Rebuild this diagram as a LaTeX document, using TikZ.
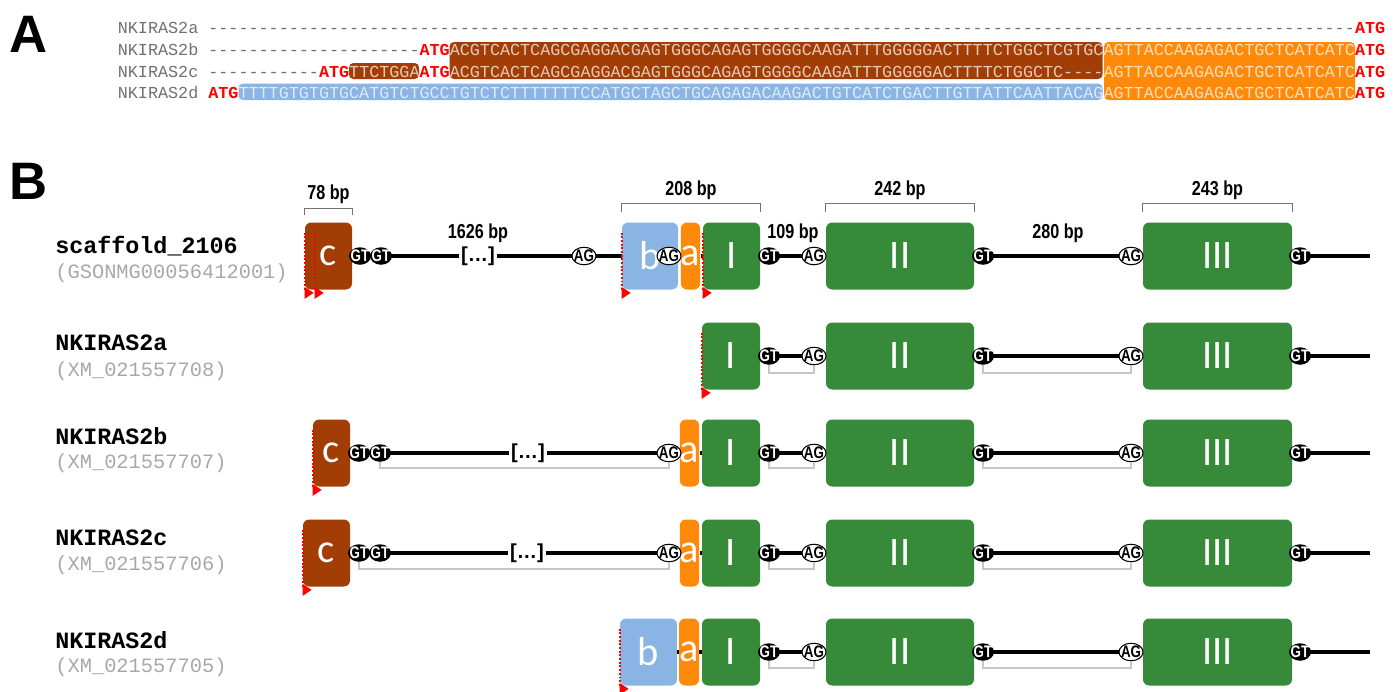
\documentclass[tikz,border=0pt]{standalone}
\usepackage{fontspec}
\setmainfont{Liberation Sans}
\setmonofont{Liberation Mono}
\newfontfamily\exonfont{Carlito}
\newfontfamily\narrowfont{Liberation Sans}[FakeStretch=0.8]
\usetikzlibrary{shapes.geometric}

\definecolor{exonC}{HTML}{A33D06}
\definecolor{exonA}{HTML}{FF8A0A}
\definecolor{exonB}{HTML}{8AB4E3}
\definecolor{exonK}{HTML}{368A3A}
\definecolor{seqgray}{HTML}{707070}
\definecolor{accgray}{HTML}{A8A8A8}
\definecolor{splicegray}{HTML}{C6C6C6}
\colorlet{onC}{white!72!exonC}
\colorlet{onA}{white!72!exonA}
\colorlet{onB}{white!72!exonB}

\newcommand\dashrun[1]{\foreach \i in {1,...,#1}{-}}
\newcommand\atg{{\bfseries\color{red}ATG}}

\begin{document}
\begin{tikzpicture}[
        % un'unita = un pixel
        x=0.02cm, y=-0.02cm,
        % Stili dell'allineamento (A)
        seq/.style={anchor=base west, inner sep=0pt, font=\ttfamily\fontsize{9.54}{10}\selectfont},
        hl/.style={rounded corners=2.5pt},
        panel/.style={font=\bfseries\fontsize{30}{30}\selectfont},
        % Stili della struttura genica (B)
        exon/.style={rounded corners=3.5pt, inner sep=0pt, minimum height=1.34cm, text=white, font=\exonfont\fontsize{23}{23}\selectfont},
        wd/.style={minimum width=#1*0.02cm},
        gt/.style={ellipse, fill=black, text=white, inner xsep=-2pt, inner ysep=-0.5pt, minimum width=0.44cm, minimum height=0.35cm, font=\narrowfont\bfseries\fontsize{9.5}{9.5}\selectfont},
        ag/.style={gt, fill=white, draw=black, line width=0.6pt, text=black, minimum width=0.48cm},
        intron/.style={line width=2.2pt},
        splice/.style={draw=splicegray, line width=0.9pt},
        bracket/.style={draw=black!55, line width=0.5pt},
        bp/.style={inner sep=1pt, font=\narrowfont\bfseries\fontsize{11.5}{11.5}\selectfont},
        gapbox/.style={fill=white, inner sep=1.5pt, font=\bfseries\fontsize{11.5}{11.5}\selectfont},
        gname/.style={anchor=west, inner sep=0pt, font=\ttfamily\bfseries\fontsize{13.3}{14}\selectfont},
        gacc/.style={anchor=west, inner sep=0pt, text=accgray, font=\ttfamily\fontsize{11.6}{12}\selectfont},
        tss/.pic={
            \draw[red, densely dotted, line width=1.1pt] (0,0) -- (0,-58);
            \fill[red] (0,-3) -- (0,9) -- (9,3) -- cycle;
        }
    ]
    \useasboundingbox (0,0) rectangle (1396,691);

    % ==============================
    % A. ALLINEAMENTO
    % ==============================
    \node[panel] (lblA) at (29,34) {A};

    % Evidenziazioni
    \fill[exonC, hl] (449.5,42) rectangle (1102.5,79);
    \fill[exonC, hl] (349,63) rectangle (419,79);
    \fill[exonA, hl] (1104,42) rectangle (1355,100);
    \fill[exonB, hl] (238.5,83.5) rectangle (1102.5,100);

    % Sequenze
    \node[seq] (seqa) at (117.5,33.8) {{\color{seqgray}NKIRAS2a \dashrun{114}}\atg};
    \node[seq] (seqb) at (117.5,55.5) {{\color{seqgray}NKIRAS2b \dashrun{21}}\atg{\color{onC}ACGTCACTCAGCGAGGACGAGTGGGCAGAGTGGGGCAAGATTTGGGGGACTTTTCTGGCTCGTGC}{\color{onA}AGTTACCAAGAGACTGCTCATCATC}\atg};
    \node[seq] (seqc) at (117.5,77.2) {{\color{seqgray}NKIRAS2c \dashrun{11}}\atg{\color{onC}TTCTGGA}\atg{\color{onC}ACGTCACTCAGCGAGGACGAGTGGGCAGAGTGGGGCAAGATTTGGGGGACTTTTCTGGCTC\dashrun{4}}{\color{onA}AGTTACCAAGAGACTGCTCATCATC}\atg};
    \node[seq] (seqd) at (117.5,98.8) {{\color{seqgray}NKIRAS2d }\atg{\color{onB}TTTTGTGTGTGCATGTCTGCCTGTCTCTTTTTTTCCATGCTAGCTGCAGAGACAAGACTGTCATCTGACTTGTTATTCAATTACAG}{\color{onA}AGTTACCAAGAGACTGCTCATCATC}\atg};

    % ==============================
    % B. STRUTTURA DEI TRASCRITTI
    % ==============================
    \node[panel] (lblB) at (29,181) {B};

    % --- scaffold_2106 ---
    \node[gname] (s-name) at (55,246) {scaffold\_2106};
    \node[gacc] (s-acc) at (55,273) {(GSONMG00056412001)};
    \begin{scope}[shift={(0,256)}]
        % Esoni
        \node[exon, wd=47, fill=exonC] (s-c) at (328.5,0) {c};
        \node[exon, wd=56, fill=exonB] (s-b) at (650,0) {b};
        \node[exon, wd=19, fill=exonA] (s-a) at (690.5,0) {a};
        \node[exon, wd=57, fill=exonK] (s-I) at (731.5,0) {I};
        \node[exon, wd=148, fill=exonK] (s-II) at (900,0) {II};
        \node[exon, wd=149, fill=exonK] (s-III) at (1217.5,0) {III};
        \coordinate (s-end) at (1370,0);
        % Introni
        \draw[intron] (s-c.east) -- (s-b.west) (s-b.east) -- (s-a.west) (s-a.east) -- (s-I.west)
            (s-I.east) -- (s-II.west) (s-II.east) -- (s-III.west) (s-III.east) -- (s-end);
        \node[gapbox] (s-gap) at (478,0) {[\ldots]};
        % Siti di splicing
        \node[gt] (s-gt1) at (360,0) {GT}; \node[gt] (s-gt2) at (381,0) {GT};
        \node[ag] (s-ag1) at (584,0) {AG}; \node[ag] (s-ag2) at (669,0) {AG};
        \node[gt] (s-gt3) at (769,0) {GT}; \node[ag] (s-ag3) at (814,0) {AG};
        \node[gt] (s-gt4) at (983,0) {GT}; \node[ag] (s-ag4) at (1131,0) {AG};
        \node[gt] (s-gt5) at (1300,0) {GT};
        % Lunghezze
        \node[bp] (s-len1) at (478,-23) {1626 bp};
        \node[bp] (s-len2) at (793,-23) {109 bp};
        \node[bp] (s-len3) at (1058,-23) {280 bp};
        \draw[bracket] ([yshift=0.14cm]s-c.north west) |- ([yshift=0.28cm]s-c.north east)
            node[bp, pos=0.75, above=1.5pt] (s-len4) {78 bp} -- ([yshift=0.14cm]s-c.north east);
        \draw[bracket] ([yshift=0.2cm]s-b.north west) |- ([yshift=0.38cm]s-I.north east)
            node[bp, pos=0.75, above=0.5pt] (s-len5) {208 bp} -- ([yshift=0.2cm]s-I.north east);
        \draw[bracket] ([yshift=0.2cm]s-II.north west) |- ([yshift=0.38cm]s-II.north east)
            node[bp, pos=0.75, above=0.5pt] (s-len6) {242 bp} -- ([yshift=0.2cm]s-II.north east);
        \draw[bracket] ([yshift=0.2cm]s-III.north west) |- ([yshift=0.38cm]s-III.north east)
            node[bp, pos=0.75, above=0.5pt] (s-len7) {243 bp} -- ([yshift=0.2cm]s-III.north east);
        % Inizi della traduzione
        \pic at (s-c.south west) {tss};
        \pic at ([xshift=0.2cm]s-c.south west) {tss};
        \pic at (s-b.south west) {tss};
        \pic at (s-I.south west) {tss};
    \end{scope}

    % --- NKIRAS2a ---
    \node[gname] (ra-name) at (55,343) {NKIRAS2a};
    \node[gacc] (ra-acc) at (55,371) {(XM\_021557708)};
    \begin{scope}[shift={(0,356)}]
        \node[exon, wd=58, fill=exonK] (ra-I) at (731,0) {I};
        \node[exon, wd=148, fill=exonK] (ra-II) at (900,0) {II};
        \node[exon, wd=149, fill=exonK] (ra-III) at (1217.5,0) {III};
        \coordinate (ra-end) at (1370,0);
        \draw[intron] (ra-I.east) -- (ra-II.west) (ra-II.east) -- (ra-III.west) (ra-III.east) -- (ra-end);
        \node[gt] (ra-gt1) at (769,0) {GT}; \node[ag] (ra-ag1) at (814,0) {AG};
        \node[gt] (ra-gt2) at (983,0) {GT}; \node[ag] (ra-ag2) at (1131,0) {AG};
        \node[gt] (ra-gt3) at (1300,0) {GT};
        \draw[splice] (ra-gt1.south) -- ++(0,8) -| (ra-ag1.south);
        \draw[splice] (ra-gt2.south) -- ++(0,8) -| (ra-ag2.south);
        \pic at (ra-I.south west) {tss};
    \end{scope}

    % --- NKIRAS2b ---
    \node[gname] (rb-name) at (55,436) {NKIRAS2b};
    \node[gacc] (rb-acc) at (55,463) {(XM\_021557707)};
    \begin{scope}[shift={(0,453)}]
        \node[exon, wd=37, fill=exonC] (rb-c) at (331.5,0) {c};
        \node[exon, wd=19, fill=exonA] (rb-a) at (689.5,0) {a};
        \node[exon, wd=58, fill=exonK] (rb-I) at (731,0) {I};
        \node[exon, wd=148, fill=exonK] (rb-II) at (900,0) {II};
        \node[exon, wd=149, fill=exonK] (rb-III) at (1217.5,0) {III};
        \coordinate (rb-end) at (1370,0);
        \draw[intron] (rb-c.east) -- (rb-a.west) (rb-a.east) -- (rb-I.west)
            (rb-I.east) -- (rb-II.west) (rb-II.east) -- (rb-III.west) (rb-III.east) -- (rb-end);
        \node[gapbox] (rb-gap) at (528,0) {[\ldots]};
        \node[gt] (rb-gt1) at (359,0) {GT}; \node[gt] (rb-gt2) at (380,0) {GT};
        \node[ag] (rb-ag1) at (669,0) {AG};
        \node[gt] (rb-gt3) at (769,0) {GT}; \node[ag] (rb-ag2) at (814,0) {AG};
        \node[gt] (rb-gt4) at (983,0) {GT}; \node[ag] (rb-ag3) at (1131,0) {AG};
        \node[gt] (rb-gt5) at (1300,0) {GT};
        \draw[splice] (rb-gt2.south) -- ++(0,6) -| (rb-ag1.south);
        \draw[splice] (rb-gt3.south) -- ++(0,6) -| (rb-ag2.south);
        \draw[splice] (rb-gt4.south) -- ++(0,6) -| (rb-ag3.south);
        \pic at (rb-c.south west) {tss};
    \end{scope}

    % --- NKIRAS2c ---
    \node[gname] (rc-name) at (55,538) {NKIRAS2c};
    \node[gacc] (rc-acc) at (55,565) {(XM\_021557706)};
    \begin{scope}[shift={(0,553)}]
        \node[exon, wd=47, fill=exonC] (rc-c) at (326.5,0) {c};
        \node[exon, wd=19, fill=exonA] (rc-a) at (689.5,0) {a};
        \node[exon, wd=58, fill=exonK] (rc-I) at (731,0) {I};
        \node[exon, wd=148, fill=exonK] (rc-II) at (900,0) {II};
        \node[exon, wd=149, fill=exonK] (rc-III) at (1217.5,0) {III};
        \coordinate (rc-end) at (1370,0);
        \draw[intron] (rc-c.east) -- (rc-a.west) (rc-a.east) -- (rc-I.west)
            (rc-I.east) -- (rc-II.west) (rc-II.east) -- (rc-III.west) (rc-III.east) -- (rc-end);
        \node[gapbox] (rc-gap) at (527,0) {[\ldots]};
        \node[gt] (rc-gt1) at (359,0) {GT}; \node[gt] (rc-gt2) at (380,0) {GT};
        \node[ag] (rc-ag1) at (669,0) {AG};
        \node[gt] (rc-gt3) at (769,0) {GT}; \node[ag] (rc-ag2) at (814,0) {AG};
        \node[gt] (rc-gt4) at (983,0) {GT}; \node[ag] (rc-ag3) at (1131,0) {AG};
        \node[gt] (rc-gt5) at (1300,0) {GT};
        \draw[splice] (rc-gt1.south) -- ++(0,7) -| (rc-ag1.south);
        \draw[splice] (rc-gt3.south) -- ++(0,7) -| (rc-ag2.south);
        \draw[splice] (rc-gt4.south) -- ++(0,7) -| (rc-ag3.south);
        \pic at (rc-c.south west) {tss};
    \end{scope}

    % --- NKIRAS2d ---
    \node[gname] (rd-name) at (55,640) {NKIRAS2d};
    \node[gacc] (rd-acc) at (55,667) {(XM\_021557705)};
    \begin{scope}[shift={(0,652)}]
        \node[exon, wd=57, fill=exonB] (rd-b) at (648.5,0) {b};
        \node[exon, wd=20, fill=exonA] (rd-a) at (689,0) {a};
        \node[exon, wd=58, fill=exonK] (rd-I) at (731,0) {I};
        \node[exon, wd=148, fill=exonK] (rd-II) at (900,0) {II};
        \node[exon, wd=149, fill=exonK] (rd-III) at (1217.5,0) {III};
        \coordinate (rd-end) at (1370,0);
        \draw[intron] (rd-b.east) -- (rd-a.west) (rd-a.east) -- (rd-I.west)
            (rd-I.east) -- (rd-II.west) (rd-II.east) -- (rd-III.west) (rd-III.east) -- (rd-end);
        \node[gt] (rd-gt1) at (769,0) {GT}; \node[ag] (rd-ag1) at (814,0) {AG};
        \node[gt] (rd-gt2) at (983,0) {GT}; \node[ag] (rd-ag2) at (1131,0) {AG};
        \node[gt] (rd-gt3) at (1300,0) {GT};
        \draw[splice] (rd-gt1.south) -- ++(0,7) -| (rd-ag1.south);
        \draw[splice] (rd-gt2.south) -- ++(0,7) -| (rd-ag2.south);
        \pic at (rd-b.south west) {tss};
    \end{scope}

\end{tikzpicture}
\end{document}
